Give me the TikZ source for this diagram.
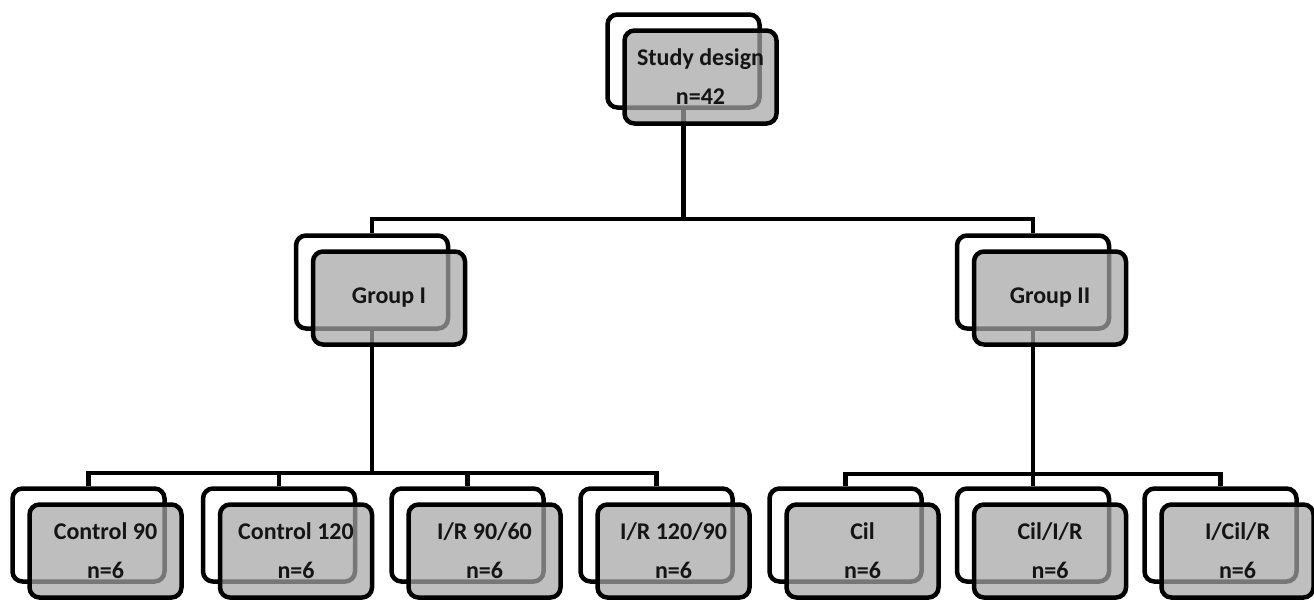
\documentclass[tikz,border=0pt]{standalone}
\usepackage{fontspec}
\setmainfont{Carlito}
\definecolor{frontgray}{RGB}{166,166,166}
\definecolor{txt}{RGB}{20,20,20}
\tikzset{
  backbox/.style={draw=black, line width=4.5pt, fill=white, rounded corners=10pt,
    minimum width=152pt, minimum height=93pt, inner sep=0pt},
  frontbox/.style={draw=black, line width=4.5pt, fill=frontgray, fill opacity=0.72,
    text opacity=1, rounded corners=10pt, minimum width=152pt, minimum height=93pt,
    inner sep=0pt, align=center, text=txt, font=\bfseries\fontsize{24}{39}\selectfont},
  conn/.style={draw=black, line width=4.3pt, line join=miter}
}
\begin{document}
\begin{tikzpicture}[x=1pt, y=-1pt]
\path[use as bounding box] (0,0) rectangle (1314,603);
% back boxes
\node[backbox] (top-b) at (683.5,61) {};
\node[backbox] (g1-b) at (372,282) {};
\node[backbox] (g2-b) at (1033,282) {};
\node[backbox] (c90-b) at (88.5,535) {};
\node[backbox] (c120-b) at (279,535) {};
\node[backbox] (ir1-b) at (467.5,535) {};
\node[backbox] (ir2-b) at (656.5,535) {};
\node[backbox] (cil-b) at (845.5,535) {};
\node[backbox] (cir-b) at (1033,535) {};
\node[backbox] (icr-b) at (1220.5,535) {};
% bus coordinates
\coordinate (bus0) at (0,219);
\coordinate (bus1) at (0,473);
\coordinate (bus2) at (0,474);
% connectors
\draw[conn] (top-b.south) -- (top-b.south |- bus0) -| (g1-b.north);
\draw[conn] (top-b.south |- bus0) -| (g2-b.north);
\draw[conn] (g1-b.south) -- (g1-b.south |- bus1) -| (c90-b.north);
\draw[conn] (g1-b.south |- bus1) -| (c120-b.north);
\draw[conn] (g1-b.south |- bus1) -| (ir1-b.north);
\draw[conn] (g1-b.south |- bus1) -| (ir2-b.north);
\draw[conn] (g2-b.south) -- (g2-b.south |- bus2) -| (cil-b.north);
\draw[conn] (g2-b.south |- bus2) -| (cir-b.north);
\draw[conn] (g2-b.south |- bus2) -| (icr-b.north);
% front boxes
\node[frontbox] (top) at (700.5,77) {Study design\\n=42};
\node[frontbox] (g1) at (389,298) {Group I};
\node[frontbox] (g2) at (1050,298) {Group II};
\node[frontbox] (c90) at (105.5,551) {Control 90\\n=6};
\node[frontbox] (c120) at (296,551) {Control 120\\n=6};
\node[frontbox] (ir1) at (484.5,551) {I/R 90/60\\n=6};
\node[frontbox] (ir2) at (673.5,551) {I/R 120/90\\n=6};
\node[frontbox] (cil) at (862.5,551) {Cil\\n=6};
\node[frontbox] (cir) at (1050,551) {Cil/I/R\\n=6};
\node[frontbox] (icr) at (1237.5,551) {I/Cil/R\\n=6};
\end{tikzpicture}
\end{document}
